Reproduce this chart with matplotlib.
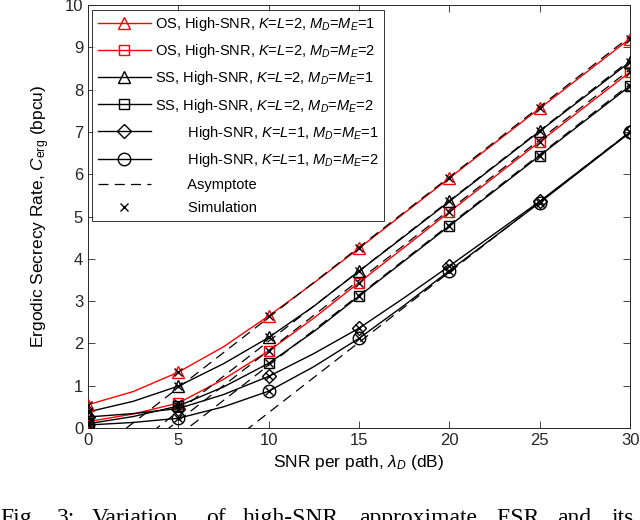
import matplotlib
matplotlib.use("Agg")
import matplotlib.pyplot as plt
from matplotlib.lines import Line2D

plt.rcParams['font.family'] = ['Liberation Sans', 'DejaVu Sans']
plt.rcParams['mathtext.fontset'] = 'custom'
plt.rcParams['mathtext.rm'] = 'Liberation Sans'
plt.rcParams['mathtext.it'] = 'Liberation Sans:italic'

# marker points (every 5 dB)
snr_db = [0, 5, 10, 15, 20, 25, 30]
os_k2_m1 = [0.55, 1.32, 2.65, 4.25, 5.91, 7.56, 9.21]
os_k2_m2 = [0.15, 0.59, 1.82, 3.44, 5.11, 6.77, 8.42]
ss_k2_m1 = [0.38, 0.99, 2.14, 3.71, 5.36, 7.02, 8.66]
ss_k2_m2 = [0.10, 0.52, 1.53, 3.12, 4.78, 6.44, 8.09]
k1_m1 = [0.26, 0.46, 1.22, 2.36, 3.83, 5.36, 7.00]
k1_m2 = [0.07, 0.23, 0.87, 2.12, 3.72, 5.33, 6.99]

# analytical curve samples
curve_snr = [0, 2.5, 5, 7.5, 10, 12.5, 15, 17.5, 20, 25, 30]
os_k2_m1_curve = [0.55, 0.86, 1.32, 1.92, 2.65, 3.43, 4.25, 5.08, 5.91, 7.56, 9.21]
os_k2_m2_curve = [0.15, 0.33, 0.59, 1.15, 1.82, 2.60, 3.44, 4.27, 5.11, 6.77, 8.42]
ss_k2_m1_curve = [0.38, 0.63, 0.99, 1.52, 2.14, 2.88, 3.71, 4.53, 5.36, 7.02, 8.66]
ss_k2_m2_curve = [0.10, 0.27, 0.52, 0.97, 1.53, 2.28, 3.12, 3.95, 4.78, 6.44, 8.09]
k1_m1_curve = [0.26, 0.34, 0.46, 0.79, 1.22, 1.76, 2.36, 3.08, 3.83, 5.36, 7.00]
k1_m2_curve = [0.07, 0.13, 0.23, 0.50, 0.87, 1.45, 2.12, 2.90, 3.72, 5.33, 6.99]

# asymptote values at 0 dB and 30 dB
asym_snr = [0, 30]
asym_os_m1 = [-0.71, 9.26]
asym_ss_m1 = [-1.27, 8.70]
asym_os_m2 = [-1.49, 8.48]
asym_ss_m2 = [-1.84, 8.13]
asym_k1 = [-2.96, 7.01]

labels = [
    'OS, High-SNR, $K$=$L$=2, $M_D$=$M_E$=1',
    'OS, High-SNR, $K$=$L$=2, $M_D$=$M_E$=2',
    'SS, High-SNR, $K$=$L$=2, $M_D$=$M_E$=1',
    'SS, High-SNR, $K$=$L$=2, $M_D$=$M_E$=2',
    '        High-SNR, $K$=$L$=1, $M_D$=$M_E$=1',
    '        High-SNR, $K$=$L$=1, $M_D$=$M_E$=2',
    '        Asymptote',
    '        Simulation',
]

fig = plt.figure(figsize=(6.4, 5.2), dpi=100)
ax = fig.add_axes([0.1375, 0.177, 0.847, 0.813])

red = '#ff0000'
series = [
    (os_k2_m1, os_k2_m1_curve, red, '^', 9),
    (os_k2_m2, os_k2_m2_curve, red, 's', 7),
    (ss_k2_m1, ss_k2_m1_curve, 'black', '^', 9),
    (ss_k2_m2, ss_k2_m2_curve, 'black', 's', 7),
    (k1_m1, k1_m1_curve, 'black', 'D', 7),
    (k1_m2, k1_m2_curve, 'black', 'o', 9),
]

dash = (0, (8, 5))
for a in [asym_os_m1, asym_ss_m1, asym_os_m2, asym_ss_m2, asym_k1]:
    ax.plot(asym_snr, a, color='black', ls=dash, lw=0.9, zorder=4)

handles = []
for vals, curve, c, m, ms in series:
    ax.plot(curve_snr, curve, color=c, lw=1.0, zorder=3)
    ax.plot(snr_db, vals, ls='none', marker=m, ms=ms, mfc='none', mec=c,
            mew=1.0, zorder=5)
    ax.plot(snr_db, vals, ls='none', marker='x', ms=6, color='black',
            mew=1.0, zorder=6)
    handles.append(Line2D([], [], color=c, lw=1.0, marker=m, ms=ms,
                          mfc='none', mec=c, mew=1.0))
handles.append(Line2D([], [], color='black', ls=dash, lw=0.9))
handles.append(Line2D([], [], color='black', ls='none', marker='x', ms=6,
                      mew=1.0))

ax.set_xlim(0, 30)
ax.set_ylim(0, 10)
ax.set_xticks([0, 5, 10, 15, 20, 25, 30])
ax.set_yticks(range(0, 11))
ax.tick_params(direction='in', top=True, right=True, labelsize=12,
               length=5, width=0.6, colors='#262626')
for s in ax.spines.values():
    s.set_linewidth(0.7)
    s.set_color('#262626')
ax.set_xlabel('SNR per path, $\\lambda_D$ (dB)', fontsize=12.5, labelpad=4)
ax.set_ylabel('Ergodic Secrecy Rate, $C_{\\mathrm{erg}}$ (bpcu)',
              fontsize=12.5, labelpad=9)

leg = ax.legend(handles, labels, loc='upper left', fontsize=10.5,
                handlelength=3.6, frameon=True, fancybox=False,
                borderaxespad=0.3, labelspacing=0.62, handletextpad=0.3,
                borderpad=0.4)
leg.get_frame().set_edgecolor('black')
leg.get_frame().set_linewidth(0.7)

# caption of the figure (cropped at the bottom edge, as in the reference)
words = [("Fig.", 0), ("3:", 57), ("Variation", 92), ("of", 206),
         ("high-SNR", 243), ("approximate", 359), ("ESR", 496),
         ("and", 557), ("its", 612)]
for w, xp in words:
    fig.text(xp / 640, -0.008, w, fontsize=17, family='Liberation Serif',
             ha='left', va='baseline')

fig.savefig('out.png', dpi=100)
